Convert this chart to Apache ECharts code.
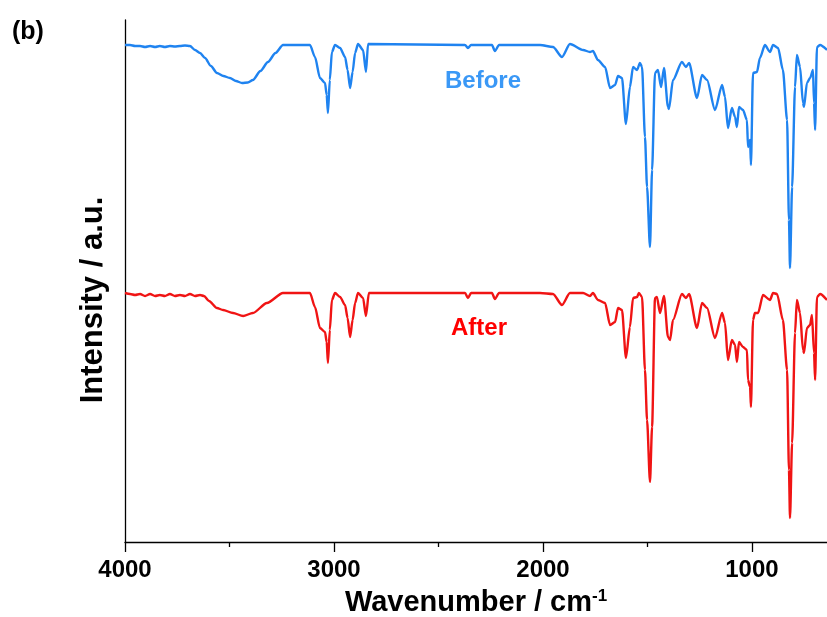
<!DOCTYPE html>
<html>
<head>
<meta charset="utf-8">
<script src="https://cdn.jsdelivr.net/npm/echarts@6/dist/echarts.min.js"></script>
<style>
html,body{margin:0;padding:0;background:#fff;}
#chart{width:827px;height:617px;}
</style>
</head>
<body>
<div id="chart"></div>
<script>
// Wavenumber (cm-1), intensity (a.u.)
var beforeWave = [4000,3976,3952,3928,3904,3880,3856,3833,3809,3785,3761,3737,3713,3689,3665,3641,3617,3589,3560,3529,3498,3469,3440,3412,3388,3352,3316,3280,3244,3115,3091,3067,3043,3035,3029,3020,3010,2995,2971,2947,2935,2923,2911,2899,2885,2861,2847,2837,2373,2359,2344,2244,2230,2210,2014,1952,1909,1871,1808,1775,1761,1737,1703,1679,1655,1641,1622,1603,1584,1569,1550,1536,1526,1512,1502,1488,1478,1464,1450,1435,1421,1402,1397,1378,1335,1316,1301,1263,1239,1215,1177,1143,1129,1115,1096,1081,1072,1062,1043,1024,1019,1009,1005,995,976,962,938,914,899,875,852,832,823,818,808,794,785,770,756,751,737,722,708,703,698,689,674,641];
var beforeInt = [99.4,99.4,99.2,99.2,99.0,99.2,99.0,99.2,99.0,99.2,99.1,99.2,99.3,99.2,98.4,97.8,96.8,95.2,93.8,93.2,92.8,92.2,91.8,91.9,92.4,94.2,96.0,97.8,99.4,99.4,97.0,92.8,91.8,89.4,85.8,92.4,98.0,99.4,98.8,97.0,94.4,90.8,94.0,97.8,99.6,98.4,94.0,99.6,99.4,98.8,99.4,99.4,98.2,99.4,99.4,99.0,97.0,99.6,98.4,98.0,98.2,96.4,95.0,90.8,91.4,93.2,92.8,83.6,91.0,95.0,94.4,95.8,95.0,81.0,71.0,59.0,74.4,93.8,94.4,91.0,94.8,87.0,86.6,92.4,96.0,95.0,95.8,88.8,93.4,92.4,86.4,91.4,89.0,82.8,86.8,85.0,83.0,87.0,86.4,84.4,79.0,80.4,75.4,93.8,94.0,96.8,99.4,98.0,99.4,98.8,94.4,84.4,64.4,54.8,71.0,91.0,97.4,95.0,87.8,87.0,91.8,92.8,94.4,87.8,82.4,99.0,99.4,98.4];

var afterWave = [4000,3976,3952,3928,3904,3880,3856,3833,3809,3785,3761,3737,3713,3689,3665,3641,3622,3598,3560,3531,3483,3435,3388,3321,3244,3115,3091,3067,3043,3035,3029,3020,3010,2995,2971,2947,2935,2923,2911,2899,2885,2861,2847,2833,2373,2359,2344,2244,2230,2210,2014,1952,1909,1871,1808,1775,1761,1737,1703,1679,1655,1641,1622,1603,1584,1569,1550,1541,1526,1512,1502,1488,1478,1464,1455,1440,1421,1402,1392,1378,1335,1316,1301,1263,1239,1215,1177,1143,1129,1115,1096,1081,1072,1062,1043,1024,1019,1009,1005,995,986,971,947,914,899,880,852,832,823,818,808,794,785,770,756,751,737,722,713,703,698,689,674,641];
var afterInt = [49.8,49.6,49.4,49.6,49.2,49.6,49.2,49.4,49.2,49.6,49.2,49.4,49.2,49.6,49.2,49.4,49.2,48.2,46.8,46.4,45.8,45.2,45.8,47.8,49.8,49.8,47.0,42.8,42.0,40.0,35.8,42.4,48.4,49.8,49.0,47.4,44.8,41.0,44.4,47.8,49.8,48.8,45.2,49.8,49.8,48.8,49.8,49.8,48.6,49.8,49.8,49.6,47.4,49.8,49.8,49.2,49.8,48.4,47.8,43.4,44.0,46.8,46.4,36.8,43.0,48.8,49.0,49.8,49.0,34.4,24.4,12.0,23.0,48.8,49.0,45.8,49.2,41.0,40.4,44.4,49.6,48.8,49.6,42.8,47.8,46.8,40.8,45.8,43.8,36.4,40.4,39.4,36.0,40.0,39.0,38.4,32.4,31.0,27.0,44.4,45.8,45.8,49.4,48.4,49.8,49.6,44.4,34.4,14.4,4.8,19.8,41.8,48.4,45.8,38.4,37.8,42.8,43.4,45.4,37.8,32.4,49.0,49.6,48.4];

var majorTicks = [1000, 2000, 3000, 4000];
var minorTicks = [1500, 2500, 3500];
var xTitle = 'Wavenumber / cm';
var xTitleSup = '-1';
var yTitle = 'Intensity / a.u.';
var panelLabel = '(b)';
var beforeLabel = 'Before';
var afterLabel = 'After';

function zip(a, b) { return a.map(function (v, i) { return [v, b[i]]; }); }

var FONT = '"Liberation Sans", Arial, Helvetica, sans-serif';
var chart = echarts.init(document.getElementById('chart'));
var axisCommon = {
  type: 'value', min: 641, max: 4000, inverse: true,
  splitLine: { show: false }
};
var lineCommon = { type: 'line', xAxisIndex: 0, showSymbol: false, smooth: 0.25, smoothMonotone: 'x' };
chart.setOption({
  animation: false,
  backgroundColor: '#fff',
  grid: { left: 125, right: 0, top: 20, bottom: 75, containLabel: false, outerBoundsMode: 'none' },
  xAxis: [
    Object.assign({}, axisCommon, {
      axisLine: { show: true, lineStyle: { color: '#000', width: 1.3 } },
      axisTick: { show: true, customValues: majorTicks, length: 10, lineStyle: { color: '#000', width: 1.3 } },
      axisLabel: { show: true, customValues: majorTicks, margin: 16, color: '#000', fontSize: 24, fontWeight: 'bold', fontFamily: FONT,
        formatter: function (v) { return String(v); } },
      name: xTitle + '{sup|' + xTitleSup + '}',
      nameLocation: 'middle', nameGap: 46,
      nameTextStyle: {
        color: '#000', fontSize: 29, fontWeight: 'bold', fontFamily: FONT,
        rich: { sup: { fontSize: 17, fontWeight: 'bold', fontFamily: FONT, color: '#000', verticalAlign: 'top', padding: [0, 0, 12, 0] } }
      }
    }),
    Object.assign({}, axisCommon, {
      position: 'bottom',
      axisLine: { show: false },
      axisTick: { show: true, customValues: minorTicks, length: 5, lineStyle: { color: '#000', width: 1.3 } },
      axisLabel: { show: false }
    })
  ],
  yAxis: {
    type: 'value', min: 0, max: 104.4,
    axisLine: { show: true, lineStyle: { color: '#000', width: 1.3 } },
    axisTick: { show: false }, axisLabel: { show: false }, splitLine: { show: false }
  },
  series: [
    Object.assign({}, lineCommon, { name: beforeLabel, data: zip(beforeWave, beforeInt), lineStyle: { color: '#1f83f0', width: 2.4 }, itemStyle: { color: '#1f83f0' } }),
    Object.assign({}, lineCommon, { name: afterLabel, data: zip(afterWave, afterInt), lineStyle: { color: '#f01414', width: 2.4 }, itemStyle: { color: '#f01414' } })
  ],
  graphic: [
    { type: 'text', left: 12, top: 20, style: { text: panelLabel, fontSize: 25, fontWeight: 'bold', fontFamily: FONT, fill: '#000' } },
    { type: 'text', x: 93, y: 300, rotation: Math.PI / 2, style: { text: yTitle, fontSize: 31, fontWeight: 'bold', fontFamily: FONT, fill: '#000', align: 'center', verticalAlign: 'middle' } },
    { type: 'text', x: 483, y: 81, style: { text: beforeLabel, fontSize: 24, fontWeight: 'bold', fontFamily: FONT, fill: '#3a98f6', align: 'center', verticalAlign: 'middle' } },
    { type: 'text', x: 479, y: 328, style: { text: afterLabel, fontSize: 24, fontWeight: 'bold', fontFamily: FONT, fill: '#ff0000', align: 'center', verticalAlign: 'middle' } }
  ]
});
</script>
</body>
</html>
